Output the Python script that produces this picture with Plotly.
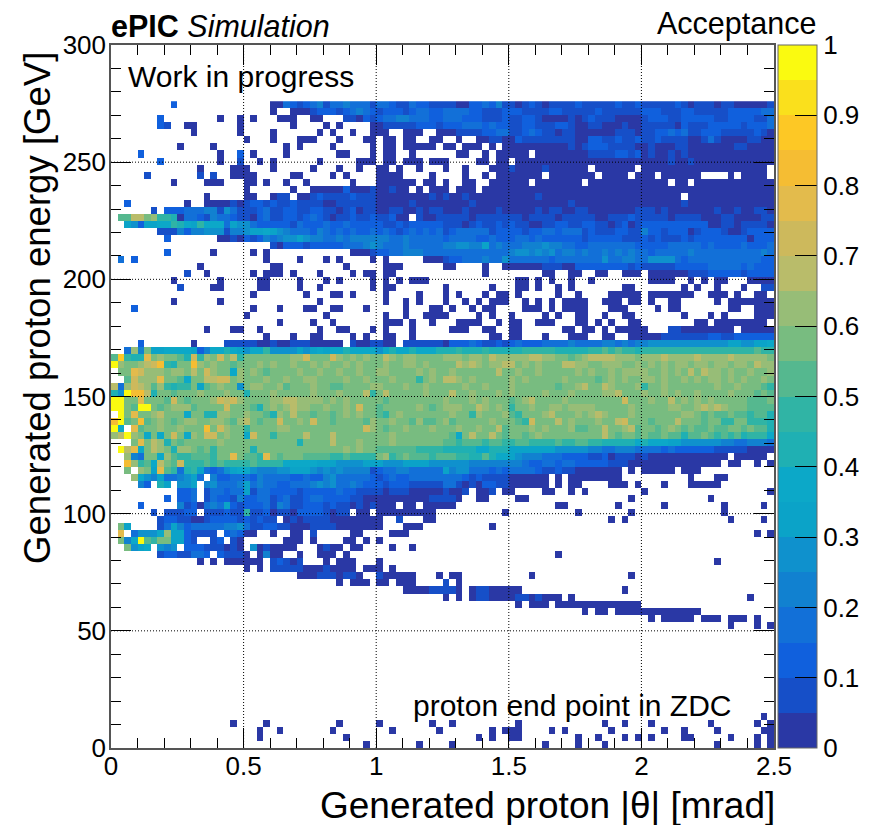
import plotly.graph_objects as go

FONT = "Liberation Sans"

# Acceptance, one string per energy bin (top row = 273-276 GeV).
# '.' = empty bin, otherwise the colour band index: 0-9 then a-j (each band is 0.05 wide).
acceptance_rows = [
".........2 .......... ....003212 3413343331 3321132211 1100223241 1012101111 2111112112 1111121011 1011000001",
".......... .......... ....0..000 1222123432 1222123322 3333221112 2211112211 1112111111 2221112211 1112222233",
".......2.. ......0..0 .0...000.. 00...11021 2334433322 3332221112 1122100001 0121110000 1222112222 2112222113",
".......21. .00......0 .......0.. ..0.0....0 0111112221 2223332322 1122111221 0011000100 1111102111 2222212223",
".......... ..0......0 ....0..... .0.0..0..0 00..000..0 0011112233 1123211011 0000001110 1122323112 2211111210",
".......... .......... 0...0...00 0...0...00 .00.00..00 ..0..00110 0211111111 0022112112 1121111001 3100001100",
".......... 0....0.... ......0.0. ...0.....0 .00.00000. 00.000.0.0 0000000001 0122211110 0100011000 0000110000",
"....2..... ......0..2 .0....0... ....00...0 .00..0.... ..00..0.00 000.000000 0011112212 0100101000 0000000000",
".......2.. ......0..1 ..0.0..... .0.....000 .00.000.00 0....00.00 .000000000 0000000000 0000100100 0000000000",
".......... ...0....00 0...0..... 0...0..0.. 00.0..0... 0..0...000 1000010000 00.000000. 0000000000 000000000.",
".....1.... ...1.1..00 00.....00. ...0.0.... 0000....0. ...0..0.00 00000.0000 000.0000.0 00.000000. ...0.0000.",
".........0 ....000... 00.0..0..0 ......0... 000000.00. 0..00..000 000.000000 0.00000000 0000.00.00 0000000000",
".......... .......... 0......0.. 0000020001 00100.0.00 0.000.0000 0000000000 0000000000 0000000000 0000000000",
".......... ....0..... 00..011.00 1211112111 0000000010 1001000000 0000100000 0000000000 000000.000 0000000000",
"..2....... .0..000010 1221211211 1100111111 0000010000 0000100000 0000000001 0000000000 0000001000 0000000000",
"......1.22 2333441531 1123112211 2211012011 0011001011 0001000010 0000101100 1100000001 1101000000 0100100110",
".aaddbc998 0332143321 1023112212 3210112112 11200.1001 1111011111 1101111011 1110011121 1111011110 0011000011",
"..65266779 8769777365 5322222132 2232232222 2112122222 1110121121 2110011221 1221101201 2222222222 0011011110",
".......111 4244555144 5667654333 2432323223 2321232323 1233333122 2212233233 3121112211 4221222012 2210012222",
"........2. ......0010 2124345565 4433434444 4433433333 2333322322 2332322222 2122222111 2121112122 2222220222",
".......... .......... ....102221 2222233345 4333433333 4455446343 3344454433 2233333332 2222333332 3222232223",
"........2. .....0.... .0.0...... ......0001 2233444333 3333333333 4554545344 3433434343 3233333433 3333333343",
".3.2...... .......... ...0....0. ..0.0....0 .0.....000 1223334335 3333332333 3333533443 3555532333 3333333322",
".......... ...0...... ....00.... .....0.... .000...... 00....0..0 0000011100 2222222212 1111122222 3333323222",
".......... .1..0..... .0.000.0.. .0....0.00 .00....... ......0... .....00..0 0..00..000 .000000111 2222212222",
".........0 ......0... ..00....0. ..0.0....0 .0.0.000.. .......... .00.0.0..0 ..0....... .0000..0.0 .00...0000",
".......... 1....00... ..00....0. .0.......0 .00....... 0......0.. .00.0..0.0 .......00. ......0.0. .0...0..11",
".......... .......... .0.......0 ...00.0... .0....0... 0.0...0.00 .0.....0.. 0....00000 .0000000.. 000.0..00.",
".........0 ......0... .......... .0........ .0..0.0... 0..0.0.000 ..0.0.0.00 00..000.00 .0..00.... .0.0000000",
"...2...... .......... .0...0...0 0..00...0. ....0...00 .0..0.00.. ..000.0.00 00...000.. ..0.00.... ...00..000",
".......... .......... 0......... ..0....... .0..0..000 0....0.0.. 0....0.0.. 00..0..00. ......0... 0.0....000",
".......... .......... .....0.... 0..0...... .000.0..0. ..0000..0. 00..000... 00.0.0..00 ........00 .00000000.",
".......... ....0...00 ..0....... .0..00...0 .0...0.... .000..00.. 00......00 .00.0.0000 0...110000 0000.00000",
".......... .......... ...0...0.. 00....0.0. .00..0.... .......00. 00...0...0 00..00..00 0001111111 2211222222",
"....2..... ..0....111 1100100111 00000.1001 100.111111 0222321121 2322233334 3333443434 4555555555 5556655667",
"..3c4b6677 7762477876 5779555565 6767787777 5787787778 8898889888 8899999888 8899a9a998 9999999999 9999999a99",
"ah988fbcbb a8e9cbebd9 bbbbbbbcce bbbecbcbcb bdcbccbbbb cccbccbdcc cccddccbba bcddddcccb cccdccccdc cccdcccccb",
"jcbbcdeg98 bbgcbcbbab bbcbcbbcbb cbcbbcbcbb bcbbccbcbb bbdcdcbccd dbcbcbbbdd ccbbcccbbc bcbcbccbcc bccbccbdcc",
".bbfecccbc cbdbecbb7c bcbabbbbcb bcbbcbbcbb ccbbbbcbcb bcbbbbbbdb bcbbcbbbbb cbcbbcbccc cbbcbcbdbd ccbcbbcbbc",
"..aecccfbb a7bbddeebc bbbcbbcbbc cbbbbcbbcb bbcbbb9bcb ddcbcbbbbb cbcbbbbbcb bbbabcbcbb ccbcbbcbcb ccbcbcbbcb",
"d3cedcac98 99b6abcbb5 bccbbcabbb cbbaabbbbc cbbbcbbcbb bbbcbbcbbb cbbbbbbabb cdbbdcbbbc 9bbcbbbbbb bcbbcbbba9",
"85jggd8bba bbbcbbbcbb 8bbbcbbbbb cbbbcbbbd9 bdbbbbbcbb bdbbcbbbcb cbbbbcbbbc bbbbccdbbb cbbcbcbbcb bbbcbbbaba",
"jjbbfbbbae babbbcedec bbbbccddcc ccbcbcbbbb babbbbbbbb cbbbcbcbbb abcdbbbbcb bbbbbbbebb bcbbdbcbcb cbbbbbaaab",
"jjbajjbabc ccabbbbebb ba8bcbcdcc bbcbbcbebb abbbbbcbab cccbbdcbcb 9bbcbbccbc cccbbbbbcb bbbbccbbcd cdcbbbaaaa",
".jbfbbcdbb b7bb88ccbb cbba8cbdbb abbabcbcbb a9bcbbbbbb bcbb9cbbbc a9bbbcdbbb cbcdcbbbcb bbbbbbccba baabaa9aa8",
"gjabgabcba bccbbccbac dbabbebbcb ebbabbbbac bbcbbacaab cabbbbbcbb ba9ebbbdbc bbbcbbdebb babbbdbbba bb99bb9998",
"j7.fabbcbb cbbbgbecbb 9bbbbccbbb bbbbbbbbec babbcbbbcb bbcbbcbbda bbbcbcbbbc aabbdbbcda bbabcbabaa baabbabaa8",
"cdjcb7b7be b7cbeebcbb 7ebb9bbbbd bbbdbbbbbb bbcbbbbbbb ba7bdbbdba bbabcbbbbb bbbbdbabba baabaa8aab a9a9a89997",
"...bfbdc8b abbbbbcbbb bbbbbbbb8b bbbdbbbcbb bbcbbbbbbb aa9aaa9aa9 9aa9999a99 aa99888887 8777665555 5544334443",
".jdf7bdcb8 ccbab9bbbb b8bbbbbbbb bbbbbcbcbb aaaaaa9999 8888877888 6666666555 5544334443 3332322222 2111110000",
"..c43bb7ca 99aaa9bbfb aa9fbabbba aaa99a9999 bc9abaaa9a aa9988a877 6544433322 2211201110 1000000000 000.00000.",
"..gc9a7dba e999a9a999 9a99997777 7666555566 6555666655 5555444444 4432233233 2222211100 0000000000 00.00..0.0",
"..b.cb6fa9 3896323567 7544455666 5454544441 2334433333 6455333232 3333211211 0000000.0. 00000.000. ..........",
"...c754633 4563.42233 3243333223 2245333332 1232233333 3332121111 000000.0.0 0000000... .......0.. .00.......",
"....42.86. 556.453334 6343322333 4545334322 2122211111 3310102211 000000.0.0 0....000.0 ...0...000 00........",
".......... 223.133233 6133222212 2222322111 1011100000 1001.001.0 0....00..0 .0........ 0......... .........0",
"........2. 223.132214 2233123112 3322221100 0000000011 110..00... .00....... ........0. .......... 0.........",
"....2..... 4120343621 2223143112 2212110101 000.00.000 00........ .......00. ......0... ...0...... ..0.....0.",
"......1.11 122.111211 9112011022 221011.00. 000000000. .........0 .......... 0.......0. .......... ..0.......",
".......122 1100122221 21211.0101 1110000000 0..1...00. .......... .......... .....0.0.. .......... ...0....0.",
".b6....136 4233333445 3112211000 1111000000 0...000... .......0.. .......... .......... .......... ..........",
".f.35557c6 621111.232 00..0..00. 1.....00.. ..000..... .......... .......... .......... .......... .......0.0",
".b47ja9bb6 621..12.10 ......000. 0....00.0. 0......... .......... .......... .......... .......... ..........",
"..b567.545 .222111010 .5010000.. .0100.00.. ..0..0.... .......... .......... .......... .......... ..........",
".......122 11332.2111 0.0400..0. .000.0.... .......... .......... .......0.. .......... .......... ..........",
".......... ...0.0.000 000.12101. ..0.000... 0......... .......... .......... .......... .......... .0........",
".......... .......... 0.0.111110 0010000.00 0.0....... .......... .......... .......... .......... ..........",
".......... .......... ........00 01110110.. 100000...0 .00....... ...0...... ........0. .......... ..........",
".......... .......... .......... ....0.000. 00.000.... 1.0....... .......... .......... .......... ..........",
".......... .......... .......... .......... ....000011 110.011000 00........ .......0.. .......... ..........",
".......... .......... .......... .......... .......... 0.0.011000 01101000.0 .......... .......... ......0...",
".......... .......... .......... .......... .......... .......... .0.000.000 0000000000 .......... ..........",
".......... .......... .......... .......... .......... .......... .......... .0.00.0000 000000000. ..........",
".......... .......... .......... .......... .......... .......... .......... .......... .0.00000.0 00.000.0..",
".......... .......... .......... .......... .......... .......... .......... .......... .......... ...0...0.0",
] + [" ".join(["."*10]*10)]*12 + [
".......... .......... .......... .......... .......... .......... .......... .......... .......... ........0.",
".......... ........0. ...0...... ....0..... 0.......0. .0........ .0........ ....0..0.. .0........ 0......0.0",
".......... .......... ..0..0.... ...0...... ..0......0 .......0.0 00....0.0. .....0.... ...0..0... .0......00",
".......... .......... ..0....... .....0.... .......... .....0.0.. 00........ 0..0...0.0 .0....00.. ...0...0.0",
".......... .......... .......... ........0. ......0... .0........ .....0.... 0...0..... .......... .0.....0.0",
]

band_codes = "0123456789abcdefghij"
band_colors = ["#2a38a5", "#164fc8", "#1060dd", "#1270d8", "#1181d0", "#0f91cd", "#0ba3c8", "#0ca8c8",
               "#1fb0b3", "#30b4a5", "#55b88f", "#78bc80", "#97bd77", "#b9bc6a", "#cdb95c", "#e3bb4c",
               "#f5bd33", "#fdc825", "#fae01c", "#fafa10"]
x_tickvals = [0, 0.5, 1, 1.5, 2, 2.5]
x_ticktext = ["0", "0.5", "1", "1.5", "2", "2.5"]
y_tickvals = [0, 50, 100, 150, 200, 250, 300]
y_ticktext = ["0", "50", "100", "150", "200", "250", "300"]
cbar_tickvals = [0, .1, .2, .3, .4, .5, .6, .7, .8, .9, 1]
cbar_ticktext = ["0", "0.1", "0.2", "0.3", "0.4", "0.5", "0.6", "0.7", "0.8", "0.9", "1"]

colorscale = []
for i, c in enumerate(band_colors):
    colorscale += [[i / 20, c], [(i + 1) / 20, c]]

rows = [r.replace(" ", "").ljust(100, ".")[:100] for r in acceptance_rows]
z = [[None if ch == "." else (band_codes.index(ch) + 0.5) / 20 for ch in r] for r in reversed(rows)]

# The page adds an 8 px body margin, so layout pixels are reference pixels minus 8.
OFF = 8
L, R, T, B = 111 - OFF, 774 - OFF, 45 - OFF, 748 - OFF
W, H = 871 - OFF, 825 - OFF

fig = go.Figure(go.Heatmap(
    z=z, x0=0.0125, dx=0.025, y0=1.5, dy=3,
    zmin=0, zmax=1, colorscale=colorscale, zsmooth=False, hoverongaps=False,
    colorbar=dict(
        x=(778 - 111) / 663, xanchor="left", xpad=0, y=0.5, yanchor="middle", ypad=0,
        thickness=39, thicknessmode="pixels", len=1, lenmode="fraction",
        outlinecolor="#666", outlinewidth=1,
        tickmode="array", tickvals=cbar_tickvals, ticktext=cbar_ticktext,
        ticks="inside", ticklen=22, tickcolor="black", tickwidth=1,
        tickfont=dict(family=FONT, size=26, color="black"),
    ),
))

axis_common = dict(showline=True, linecolor="#555", linewidth=1.5, mirror="allticks",
                   showgrid=False, zeroline=False, ticks="inside", ticklen=20,
                   tickcolor="black", tickwidth=1, layer="above traces",
                   tickfont=dict(family=FONT, size=26, color="black"))
fig.update_xaxes(range=[0, 2.5], tickmode="array", tickvals=x_tickvals, ticktext=x_ticktext,
                 minor=dict(ticks="inside", ticklen=10, dtick=0.1, tick0=0, tickcolor="black", tickwidth=1, showgrid=False),
                 ticklabelstandoff=-6, **axis_common)
fig.update_yaxes(range=[0, 300], tickmode="array", tickvals=y_tickvals, ticktext=y_ticktext,
                 minor=dict(ticks="inside", ticklen=10, dtick=10, tick0=0, tickcolor="black", tickwidth=1, showgrid=False),
                 ticklabelstandoff=-2, **axis_common)

shapes = []
for v in x_tickvals[1:-1]:
    shapes.append(dict(type="line", xref="x", yref="paper", x0=v, x1=v, y0=0, y1=1, layer="above",
                       line=dict(color="black", width=1, dash="1px,2px")))
for v in y_tickvals[1:-1]:
    shapes.append(dict(type="line", xref="paper", yref="y", x0=0, x1=1, y0=v, y1=v, layer="above",
                       line=dict(color="black", width=1, dash="1px,2px")))


def label(text, px, py, size, xanchor="left", yanchor="middle", angle=0):
    return dict(text=text, x=(px - OFF - L) / (R - L), y=(B - (py - OFF)) / (B - T), xref="paper", yref="paper",
                xanchor=xanchor, yanchor=yanchor, showarrow=False, textangle=angle, borderpad=0,
                font=dict(family=FONT, size=size, color="black"))


annotations = [
    label("<b>ePIC</b> <i>Simulation</i>", 110, 26, 30.5),
    label("Acceptance", 817, 24, 30.5, xanchor="right"),
    label("Work in progress", 127, 76, 30),
    label("proton end point in ZDC", 412, 705, 30),
    label("Generated proton |θ| [mrad]", 776, 805, 37, xanchor="right"),
    label("Generated proton energy [GeV]", 38, 308, 36.6, xanchor="center", yanchor="middle", angle=-90),
]

fig.update_layout(width=W, height=H, margin=dict(l=L, r=W - R, t=T, b=H - B, autoexpand=False),
                  paper_bgcolor="white", plot_bgcolor="white", shapes=shapes, annotations=annotations,
                  font=dict(family=FONT, color="black"))
fig.write_html("out.html")
